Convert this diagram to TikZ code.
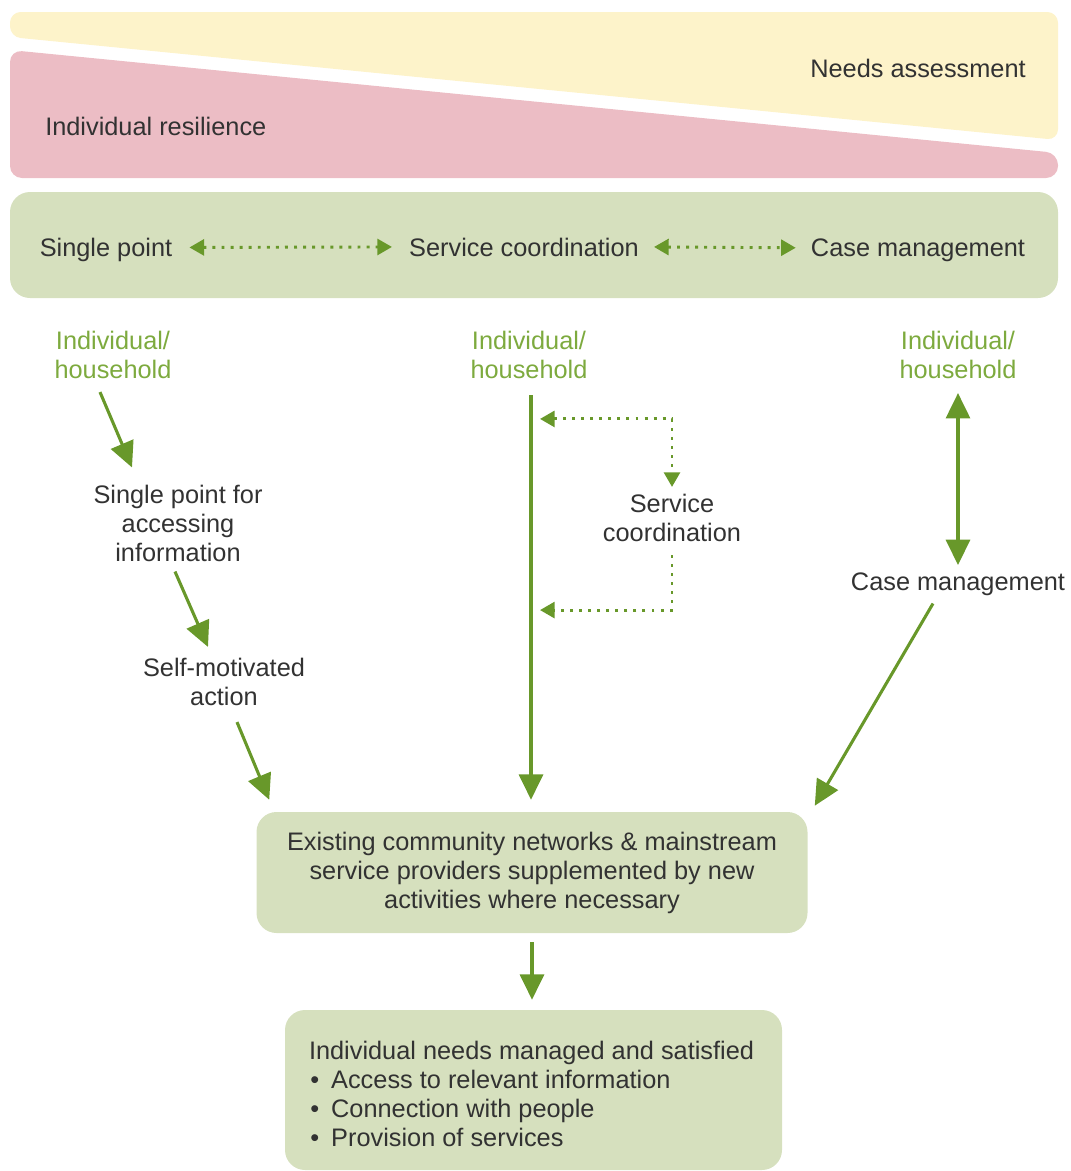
\documentclass[tikz,border=0pt]{standalone}
\usepackage{fontspec}
\setmainfont{Liberation Sans}
\usetikzlibrary{arrows.meta}

\definecolor{bandyellow}{RGB}{253,243,202}
\definecolor{bandpink}{RGB}{236,189,197}
\definecolor{boxgreen}{RGB}{214,224,190}
\definecolor{labelgreen}{RGB}{125,170,62}
\definecolor{arrowgreen}{RGB}{104,152,42}
\definecolor{ink}{RGB}{50,50,50}

\begin{document}
\begin{tikzpicture}[x=0.75pt, y=-0.75pt,
  txt/.style={font=\fontsize{19}{21.75}\selectfont, text=ink, align=center, inner sep=0pt},
  hh/.style={txt, text=labelgreen},
  flow/.style={draw=arrowgreen, line width=2.3pt, -{Triangle[length=19pt, width=18pt]}},
  twoway/.style={draw=arrowgreen, line width=2.3pt, {Triangle[length=19pt, width=18pt]}-{Triangle[length=19pt, width=18pt]}},
  link/.style={draw=arrowgreen, line width=2.2pt, dash pattern=on 2.2pt off 4.6pt},
  ltip/.style={-{Triangle[length=11pt, width=12pt]}},
  ltips/.style={{Triangle[length=11pt, width=12pt]}-{Triangle[length=11pt, width=12pt]}},
  box/.style={fill=boxgreen, rounded corners=15pt, inner sep=0pt}
]
\useasboundingbox (0,0) rectangle (1071,1171);

% --- top band: needs assessment over individual resilience
\fill[bandyellow, rounded corners=8pt] (10,12) -- (1058,12) -- (1058,140) -- (10,37) -- cycle;
\fill[bandpink, rounded corners=9pt] (10,50) -- (1058,153) -- (1058,178) -- (10,178) -- cycle;
\node[txt, anchor=base east] (needs) at (1026,77) {Needs assessment};
\node[txt, anchor=base west] (resil) at (45,135) {Individual resilience};

% --- service spectrum band
\node[box, minimum width=786pt, minimum height=79.5pt] (band) at (534,245) {};
\node[txt, anchor=base] (sp1) at (106,256) {Single point};
\node[txt, anchor=base] (sc1) at (524,256) {Service coordination};
\node[txt, anchor=base] (cm1) at (918,256) {Case management};
\draw[link, ltips] ([shift={(17,-2)}]sp1.east) -- ([shift={(-17,0)}]sc1.west);
\draw[link, ltips] ([shift={(15,0)}]sc1.east) -- ([shift={(-15,-2)}]cm1.west);

% --- entry points
\node[hh] (hh1) at (113,355) {Individual/\\household};
\node[hh] (hh2) at (529,355) {Individual/\\household};
\node[hh] (hh3) at (958,355) {Individual/\\household};

% --- left pathway
\node[txt] (spa) at (178,523) {Single point for\\accessing\\information};
\node[txt] (sma) at (224,682) {Self-motivated\\action};

% --- middle and right pathways
\node[txt] (sc2) at (672,518) {Service\\coordination};
\node[txt, anchor=base] (cm2) at (958,590) {Case management};

% --- outcome boxes
\node[box, txt, minimum width=413.25pt, minimum height=90.75pt] (comm) at (532,872.5)
  {Existing community networks \& mainstream\\service providers supplemented by new\\activities where necessary};
\node[box, minimum width=372.75pt, minimum height=120pt] (out) at (533.5,1090) {};
\node[txt, align=left, anchor=west] (outtext) at ([shift={(24,4)}]out.west)
  {Individual needs managed and satisfied\\
   \hspace*{1pt}\textbullet\hspace{9pt}Access to relevant information\\
   \hspace*{1pt}\textbullet\hspace{9pt}Connection with people\\
   \hspace*{1pt}\textbullet\hspace{9pt}Provision of services};

% --- connectors
\draw[flow] ([shift={(-13,13)}]hh1.south) -- ([shift={(-46,-17)}]spa.north);
\draw[flow] ([shift={(-3,10)}]spa.south) -- ([shift={(-16,-11)}]sma.north);
\draw[flow] ([shift={(13,16)}]sma.south) -- ([shift={(13,-12)}]comm.north west);

\draw[flow] ([shift={(2,16)}]hh2.south) -- ([shift={(-1,-12)}]comm.north);
\draw[link, ltips] ([shift={(-132,-75)}]sc2.north) -| ([shift={(0,-7)}]sc2.north);
\draw[link, ltip] ([shift={(0,13)}]sc2.south) |- ([shift={(-132,68)}]sc2.south);

\draw[twoway] ([shift={(0,14)}]hh3.south) -- ([shift={(0,-7)}]cm2.north);
\draw[flow] ([shift={(-25,8)}]cm2.south) -- ([shift={(7,-6)}]comm.north east);

\draw[flow] ([shift={(0,9)}]comm.south) -- ([shift={(0,-10)}]comm.south |- out.north);
\end{tikzpicture}
\end{document}
